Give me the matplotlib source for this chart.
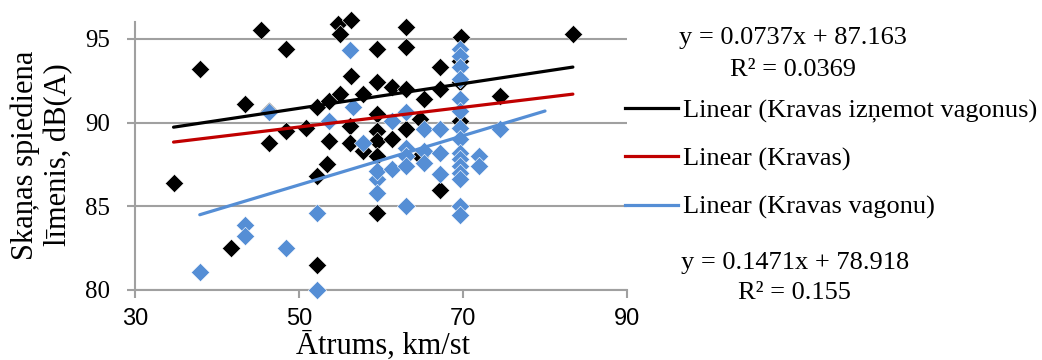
import numpy as np
import matplotlib
matplotlib.use("Agg")
import matplotlib.pyplot as plt
from matplotlib.lines import Line2D

# measured speed (km/h) and sound level (dB(A)) -- trucks without wagons
kravas_x = [34.7, 37.9, 41.7, 43.4, 45.4, 46.4, 46.4, 48.4, 48.4, 50.9,
            52.2, 52.2, 52.2, 53.4, 53.6, 53.6, 54.8, 55.0, 55.0, 56.4,
            56.4, 56.2, 56.2, 57.8, 57.8, 59.5, 59.5, 59.5, 59.5, 59.5,
            59.5, 59.5, 61.3, 61.3, 63.1, 63.1, 63.1, 63.1, 64.8, 64.8,
            65.2, 67.2, 67.2, 67.2, 69.8, 69.6, 69.6, 69.6, 74.5, 83.4]
kravas_y = [86.4, 93.2, 82.5, 91.1, 95.5, 90.7, 88.8, 94.4, 89.5, 89.7,
            90.9, 86.8, 81.5, 87.5, 88.9, 91.3, 95.9, 95.3, 91.7, 96.1,
            92.8, 89.8, 88.8, 91.7, 88.3, 94.4, 92.4, 90.5, 89.5, 88.9,
            88.0, 84.6, 92.1, 89.0, 95.7, 94.5, 92.0, 89.6, 90.2, 88.0,
            91.4, 93.3, 92.0, 86.0, 95.1, 93.7, 92.4, 90.1, 91.6, 95.3]

# trucks with wagons
vagonu_x = [37.9, 43.4, 43.4, 46.4, 48.4, 52.2, 52.2, 53.6, 56.2, 56.6,
            57.8, 59.5, 59.5, 59.5, 61.3, 61.3, 63.1, 63.1, 63.1, 63.1,
            63.1, 65.2, 65.2, 65.2, 67.2, 67.2, 67.2, 69.6, 69.6, 69.6,
            69.6, 69.6, 69.6, 69.6, 69.6, 69.6, 69.6, 69.6, 69.6, 69.6,
            69.6, 69.6, 71.9, 71.9, 74.5]
vagonu_y = [81.1, 83.9, 83.2, 90.6, 82.5, 84.6, 80.0, 90.1, 94.3, 90.9,
            88.8, 86.6, 85.8, 87.1, 90.1, 87.2, 90.6, 88.5, 88.0, 87.4,
            85.0, 89.6, 88.3, 87.6, 89.6, 88.2, 86.9, 94.4, 94.0, 93.3,
            92.6, 91.4, 90.7, 89.7, 89.0, 88.2, 87.8, 87.4, 87.0, 86.6,
            85.0, 84.5, 88.0, 87.4, 89.6]

# linear trend lines: (slope, intercept, x from, x to)
trend_izn = (0.0737, 87.163, 34.7, 83.4)
trend_all = (0.0588, 86.79, 34.7, 83.4)
trend_vag = (0.1471, 78.918, 37.9, 80.0)

legend_labels = ["Linear (Kravas izņemot vagonus)", "Linear (Kravas)",
                 "Linear (Kravas vagonu)"]

BLACK = "#000000"
RED = "#C00000"
BLUE = "#558ED5"
GRID = "#A0A0A0"
SERIF = "Liberation Serif"

fig = plt.figure(figsize=(10.42, 3.6), dpi=100)
ax = fig.add_axes([135 / 1042, 70 / 360, 492 / 1042, 268 / 360])

ax.scatter(kravas_x, kravas_y, marker="D", s=88, color=BLACK,
           edgecolors="white", linewidths=0.4, zorder=3, clip_on=False)
ax.scatter(vagonu_x, vagonu_y, marker="D", s=88, color=BLUE,
           edgecolors="white", linewidths=0.4, zorder=4, clip_on=False)

for (k, b, x0, x1), c in [(trend_izn, BLACK), (trend_all, RED), (trend_vag, BLUE)]:
    xs = np.array([x0, x1])
    ax.plot(xs, k * xs + b, color=c, lw=2.3, zorder=5, solid_capstyle="round")

ax.set_xlim(30, 90)
ax.set_ylim(80, 96)
ax.set_xticks([30, 50, 70, 90])
ax.set_yticks([80, 85, 90, 95])
ax.yaxis.grid(True, color=GRID, lw=1.5)
ax.set_axisbelow(True)
for s in ["top", "right"]:
    ax.spines[s].set_visible(False)
for s in ["left", "bottom"]:
    ax.spines[s].set_color(GRID)
    ax.spines[s].set_linewidth(1.5)
ax.tick_params(axis="both", direction="out", length=6, width=1.5, color=GRID)
ax.tick_params(axis="y", pad=12)
ax.tick_params(axis="x", pad=7)
for t in ax.get_yticklabels():
    t.set_fontfamily(SERIF)
    t.set_fontsize(18)
for t in ax.get_xticklabels():
    t.set_fontfamily("Liberation Sans")
    t.set_fontsize(17)

fig.text(42 / 1042, 1 - 155 / 360, "Skaņas spiediena\nlīmenis, dB(A)",
         rotation=90, ha="center", va="center", multialignment="center",
         family=SERIF, fontsize=22)
fig.text(383 / 1042, 6 / 360, "Ātrums, km/st", ha="center", va="baseline",
         family=SERIF, fontsize=22)

# trend equations
fig.text(793 / 1042, 1 - 38 / 360, "y = 0.0737x + 87.163", ha="center", va="center",
         family=SERIF, fontsize=19)
fig.text(793 / 1042, 1 - 70 / 360, "R² = 0.0369", ha="center", va="center",
         family=SERIF, fontsize=19)
fig.text(795 / 1042, 1 - 263 / 360, "y = 0.1471x + 78.918", ha="center", va="center",
         family=SERIF, fontsize=19)
fig.text(794 / 1042, 1 - 293 / 360, "R² = 0.155", ha="center", va="center",
         family=SERIF, fontsize=19)

handles = [Line2D([], [], color=c, lw=2.3) for c in (BLACK, RED, BLUE)]
fig.legend(handles, legend_labels, loc="center left",
           bbox_to_anchor=(625 / 1042, 1 - 159 / 360), frameon=False,
           borderpad=0, borderaxespad=0, handlelength=2.0, handletextpad=0.2,
           labelspacing=0.93, prop={"family": SERIF, "size": 19})

fig.savefig("out.png", dpi=100)
